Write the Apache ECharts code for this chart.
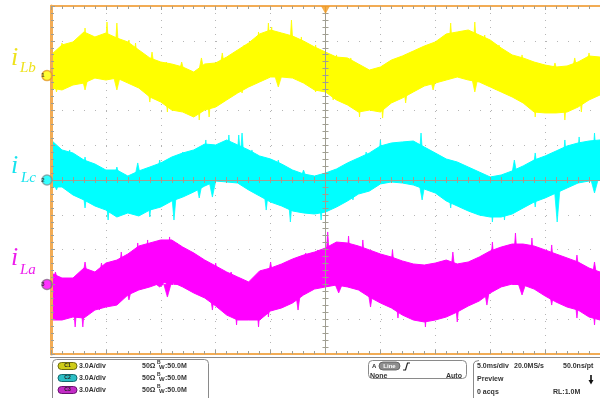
<!DOCTYPE html>
<html><head><meta charset="utf-8">
<script src="https://cdn.jsdelivr.net/npm/echarts@6/dist/echarts.min.js"></script>
<style>html,body{margin:0;padding:0;background:#fff}#c{width:600px;height:398px}</style>
</head><body><div id="c"></div>
<script>
// ---- data (time in ms relative to trigger, values in A relative to each channel's ground) ----
const timesMs = [-25,-24,-23,-22,-21,-20,-19,-18,-17,-16,-15,-14,-13,-12,-11,-10,-9,-8,-7,-6,-5,-4,-3,-2,-1,0,1,2,3,4,5,6,7,8,9,10,11,12,13,14,15,16,17,18,19,20,21,22,23,24,25];

const iLbTop = [1.78,2.64,2.90,3.76,3.33,3.67,3.24,2.90,2.21,1.52,1.17,1.00,0.74,0.31,1.00,1.09,1.60,2.21,2.81,3.59,3.93,3.67,3.41,2.98,2.47,2.03,1.60,1.52,1.00,0.48,0.74,1.34,1.69,2.12,2.55,2.90,3.59,3.76,3.93,3.50,3.07,2.38,1.78,1.52,1.17,0.91,0.74,0.83,1.17,1.69,1.60];
const iLbBottom = [-1.07,-1.24,-0.81,-0.64,-0.21,-0.38,-0.21,-0.64,-1.07,-1.84,-2.28,-2.97,-3.14,-3.57,-2.97,-2.71,-2.10,-1.50,-0.98,-0.55,-0.12,-0.12,-0.21,-0.64,-1.24,-1.41,-2.10,-2.53,-3.14,-2.97,-3.14,-2.36,-1.93,-1.41,-0.90,-0.64,-0.38,-0.12,-0.38,-0.55,-0.98,-1.41,-1.84,-2.36,-3.14,-3.22,-3.22,-3.14,-2.71,-2.10,-1.67];

const iLcTop = [3.45,2.59,2.33,1.72,1.38,0.86,0.86,0.34,0.78,1.12,1.47,1.98,2.33,2.59,3.10,3.02,3.45,3.02,2.59,2.07,1.81,1.38,0.86,0.52,0.34,0.60,0.95,1.47,1.90,2.33,2.93,3.19,3.28,3.36,2.84,2.33,1.81,1.55,1.12,0.69,0.26,0.43,0.78,1.21,1.72,2.07,2.50,2.93,3.19,3.36,3.45];
const iLcBottom = [-0.60,-0.60,-1.29,-1.72,-2.24,-2.59,-3.19,-2.84,-3.10,-2.59,-2.33,-1.81,-1.47,-1.03,-0.52,-0.09,-0.17,-0.26,-0.86,-1.38,-1.90,-2.24,-2.67,-2.84,-2.93,-2.76,-2.33,-1.81,-1.21,-0.95,-0.34,-0.17,-0.26,-0.43,-0.78,-1.12,-1.81,-2.24,-2.67,-3.02,-3.19,-3.19,-2.93,-2.41,-1.90,-1.55,-1.12,-0.69,-0.26,-0.09,0.00];

const iLaTop = [0.98,0.55,0.55,1.41,1.07,1.84,2.10,2.62,3.31,3.57,3.83,3.83,3.22,2.71,2.10,1.59,1.07,0.64,0.21,1.16,1.41,1.76,2.19,2.53,2.79,3.14,3.65,3.57,3.31,2.97,2.62,2.36,2.02,1.76,1.67,1.84,2.10,1.76,1.93,2.36,2.88,3.22,3.48,3.48,3.31,2.97,2.62,2.28,1.93,1.41,1.07];
const iLaBottom = [-3.07,-3.07,-2.81,-2.90,-2.21,-1.95,-1.78,-0.91,-0.48,-0.22,0.12,0.21,-0.22,-0.74,-1.17,-1.86,-2.64,-3.07,-3.07,-3.07,-2.29,-2.03,-1.60,-0.91,-0.40,-0.22,-0.05,-0.22,-0.48,-1.09,-1.60,-2.03,-2.64,-3.07,-3.24,-3.07,-2.81,-2.38,-1.86,-1.43,-0.74,-0.22,0.03,-0.05,-0.40,-1.00,-1.52,-1.95,-2.21,-2.81,-3.07];

// noise spikes [time ms, A]
const iLbSpikes = [[-19.9,4.62],[-19.0,4.53],[-4.9,4.19],[-3.1,4.79],[11.4,4.53],[13.6,4.62],[-11.5,-3.83],[5.2,-3.66],[21.8,-3.83],
  [-24.0,2.81],[-21.9,4.10],[-17.9,3.07],[-17.3,2.81],[-15.8,2.03],[-14.5,1.17],[-13.1,1.17],[-11.3,1.52],[-9.4,1.95],[-7.4,2.64],[-6.1,3.76],[-5.2,4.53],[-2.2,3.33],[-0.9,2.64],
  [-24.5,-1.41],[-21.9,-1.24],[-19.0,-1.24],[-16.0,-2.28],[-14.4,-3.14],[-10.6,-3.57],[-9.4,-2.36],[-7.6,-1.50],[-4.3,-0.98],[-0.9,-1.41],
  [1.0,1.78],[2.3,1.52],[7.3,1.78],[9.5,2.64],[14.5,3.50],[15.8,2.64],[17.9,1.78],[20.9,1.09],[22.7,1.52],[24.0,1.95],
  [0.7,-2.10],[3.1,-3.57],[7.3,-2.36],[9.8,-1.24],[13.6,-1.41],[15.5,-1.24],[19.1,-3.57],[23.3,-3.14]];
const iLcSpikes = [[-24.9,3.88],[-8.8,3.88],[-7.6,4.05],[8.7,4.05],[24.5,4.05],[-13.8,-3.45],[15.2,-3.62],[21.1,-3.62],
  [-23.3,2.59],[-21.9,1.98],[-19.0,1.12],[-17.1,1.47],[-15.1,1.72],[-13.0,2.41],[-10.9,3.45],[-7.9,3.88],[-6.7,2.59],[-4.3,1.72],[-2.0,0.86],
  [1.2,0.86],[3.7,2.41],[5.0,3.45],[8.8,2.84],[11.3,1.72],[17.2,1.72],[19.1,2.33],[21.8,3.45],[23.1,3.71],
  [-24.5,-0.86],[-21.9,-2.41],[-19.8,-3.45],[-16.0,-3.19],[-11.5,-1.55],[-10.3,-1.47],[-5.4,-2.59],[-3.2,-3.62],[-0.4,-3.45],
  [0.7,-2.33],[2.5,-1.72],[8.8,-1.72],[11.4,-2.41],[13.4,-2.84],[16.3,-3.45],[19.1,-2.33],[24.5,-1.12]];
const iLaSpikes = [[-14.2,4.09],[2.1,4.17],[17.3,4.43],[-22.1,-3.67],[-8.1,-3.50],[9.1,-3.67],
  [-24.6,1.07],[-21.9,1.93],[-20.4,1.84],[-18.6,2.79],[-17.1,3.57],[-16.2,3.83],[-15.1,3.83],[-13.5,3.57],[-12.1,2.79],[-10.0,1.84],[-8.6,1.07],[-5.0,1.93],[-3.6,1.93],[-1.8,2.71],[-0.7,2.97],
  [0.2,4.52],[3.4,3.83],[6.1,2.97],[11.6,2.79],[15.2,3.65],[18.8,4.00],[20.6,3.40],[22.9,2.53],[24.5,1.93],
  [-22.8,-3.67],[-20.6,-2.21],[-17.9,-1.34],[-15.1,-0.22],[-14.4,-1.09],[-10.3,-2.21],[-6.1,-3.67],[-5.2,-2.81],[-2.5,-2.21],
  [1.2,-0.74],[4.1,-1.95],[6.6,-2.90],[12.0,-3.24],[14.7,-1.78],[17.9,-0.91],[20.6,-1.78],[22.9,-2.90],[24.5,-3.50]];

const channelNames = ['1','2','3'];
const channelOffsetDiv = [3, 0, -3];
const ampsPerDiv = 3.0;

const statusRows = ['3.0A/div','3.0A/div','3.0A/div'];

// ---- chart ----
const colors = ['#FFFF00','#00FFFF','#FF00FF'];
const labelColors = ['#EEE21C','#17E3EE','#EC1CEC'];
const markerRings = ['#E39A2A','#7A9A9C','#8A6A8A'];

function bandSeries(top, bottom, ch) {
  const off = channelOffsetDiv[ch] * ampsPerDiv;
  const n = timesMs.length;
  return {
    type: 'custom', coordinateSystem: 'cartesian2d', xAxisIndex: 0, yAxisIndex: 0,
    z: 3 + ch, silent: true, clip: true,
    data: timesMs.map((t, i) => [t, top[i], bottom[i]]),
    renderItem(params, api) {
      if (params.dataIndex !== 0) return null;
      const pts = [];
      for (let i = 0; i < n; i++) pts.push(api.coord([timesMs[i], top[i] + off]));
      for (let i = n - 1; i >= 0; i--) pts.push(api.coord([timesMs[i], bottom[i] + off]));
      return {
        type: 'polygon',
        shape: { points: pts },
        style: { fill: colors[ch], stroke: colors[ch], lineWidth: 1 }
      };
    }
  };
}
// each spike is a narrow wedge from the channel's ground level up to its tip
function spikeSeries(spikes, ch) {
  const off = channelOffsetDiv[ch] * ampsPerDiv;
  return {
    type: 'custom', coordinateSystem: 'cartesian2d', xAxisIndex: 0, yAxisIndex: 0,
    z: 3 + ch, silent: true, clip: true,
    data: spikes,
    renderItem(params, api) {
      const p = spikes[params.dataIndex];
      const a = api.coord([p[0] - 0.32, off]);
      const b = api.coord([p[0] + 0.32, off]);
      const tip = api.coord([p[0], off + p[1]]);
      return { type: 'polygon', shape: { points: [a, tip, b] },
        style: { fill: colors[ch], stroke: colors[ch], lineWidth: 0.8 } };
    }
  };
}

const gridCol = '#b5b5b5';
const centerCol = '#a09e92';
const orange = '#F2AC55';
const xBase = { type: 'value', min: -25, max: 25, interval: 5, axisLabel: { show: false }, splitLine: { show: false } };
const yBase = { type: 'value', min: -15, max: 15, interval: 3, axisLabel: { show: false }, splitLine: { show: false } };
const minorT = (len, col) => ({ show: true, splitNumber: 5, length: len, lineStyle: { color: col, width: 1 } });

const xAxis = [
  Object.assign({}, xBase, { position: 'bottom', z: 0, axisLine: { show: false, onZero: false }, axisTick: { show: false },
    splitLine: { show: true, lineStyle: { color: gridCol, width: 1, type: [1, 6] } } }),
  Object.assign({}, xBase, { position: 'bottom', z: 10, axisLine: { show: true, onZero: true, onZeroAxisIndex: 0, lineStyle: { color: centerCol, width: 1 } },
    axisTick: { show: true, length: 3, lineStyle: { color: centerCol } }, minorTick: minorT(3, centerCol) }),
  Object.assign({}, xBase, { position: 'top', z: 10, axisLine: { show: false, onZero: true, onZeroAxisIndex: 0 },
    axisTick: { show: true, length: 3, lineStyle: { color: centerCol } }, minorTick: minorT(3, centerCol) }),
  Object.assign({}, xBase, { position: 'top', z: 11, axisLine: { show: true, onZero: false, lineStyle: { color: orange, width: 2 } },
    axisTick: { show: true, inside: true, length: 4, lineStyle: { color: centerCol } }, minorTick: minorT(3, centerCol) }),
  Object.assign({}, xBase, { position: 'bottom', z: 11, axisLine: { show: true, onZero: false, lineStyle: { color: orange, width: 2 } },
    axisTick: { show: true, inside: true, length: 4, lineStyle: { color: centerCol } }, minorTick: minorT(3, centerCol) })
];
const yAxis = [
  Object.assign({}, yBase, { position: 'left', z: 0, axisLine: { show: false, onZero: false }, axisTick: { show: false },
    splitLine: { show: true, lineStyle: { color: gridCol, width: 1, type: [1, 10] } } }),
  Object.assign({}, yBase, { position: 'left', z: 10, axisLine: { show: true, onZero: true, onZeroAxisIndex: 0, lineStyle: { color: centerCol, width: 1 } },
    axisTick: { show: true, length: 3, lineStyle: { color: centerCol } }, minorTick: minorT(3, centerCol) }),
  Object.assign({}, yBase, { position: 'right', z: 10, axisLine: { show: false, onZero: true, onZeroAxisIndex: 0 },
    axisTick: { show: true, length: 3, lineStyle: { color: centerCol } }, minorTick: minorT(3, centerCol) }),
  Object.assign({}, yBase, { position: 'left', z: 11, axisLine: { show: true, onZero: false, lineStyle: { color: orange, width: 3 } },
    axisTick: { show: true, inside: true, length: 4, lineStyle: { color: centerCol } }, minorTick: minorT(3, centerCol) })
];

const series = [
  bandSeries(iLbTop, iLbBottom, 0), spikeSeries(iLbSpikes, 0),
  bandSeries(iLcTop, iLcBottom, 1), spikeSeries(iLcSpikes, 1),
  bandSeries(iLaTop, iLaBottom, 2), spikeSeries(iLaSpikes, 2),
  {
    type: 'scatter', xAxisIndex: 0, yAxisIndex: 0, z: 20, silent: true, clip: false,
    symbol: 'circle', symbolSize: 10, symbolOffset: [-4, 0],
    data: channelOffsetDiv.map((d, k) => ({
      value: [-25, d * ampsPerDiv],
      itemStyle: { color: colors[k], borderColor: markerRings[k], borderWidth: 1.5 },
      label: { show: true, formatter: channelNames[k], position: 'inside', offset: [-4, 0], color: '#222', fontSize: 6, fontWeight: 'bold', fontFamily: 'Liberation Sans' }
    }))
  },
  {
    type: 'scatter', xAxisIndex: 0, yAxisIndex: 0, z: 20, silent: true, clip: false,
    symbol: 'triangle', symbolRotate: 180, symbolSize: [9, 8], symbolOffset: [0, 4],
    itemStyle: { color: '#F29A1E' },
    data: [[0, 15]]
  }
];

// ---- labels and status bar (text) ----
const ser = 'Liberation Serif';
const sans = 'Liberation Sans';
function T(x, y, text, opt) {
  return { type: 'text', x, y, silent: true, z: 50,
    style: Object.assign({ text, fill: '#333', font: 'bold 7px ' + sans, verticalAlign: 'middle', align: 'left' }, opt || {}) };
}
const chanLabels = [
  { i: 'i', s: 'Lb', iy: 58, sy: 68, sx: 20 },
  { i: 'i', s: 'Lc', iy: 166, sy: 178, sx: 21 },
  { i: 'i', s: 'La', iy: 258, sy: 270, sx: 20 }
];
const graphic = [];
chanLabels.forEach((l, k) => {
  graphic.push(T(11, l.iy, l.i, { fill: labelColors[k], font: 'italic 26px ' + ser }));
  graphic.push(T(l.sx, l.sy, l.s, { fill: labelColors[k], font: 'italic 15px ' + ser }));
});
// status area
graphic.push({ type: 'line', z: 40, silent: true, shape: { x1: 50, y1: 357.5, x2: 600, y2: 357.5 }, style: { stroke: '#8a8a8a', lineWidth: 1 } });
graphic.push({ type: 'rect', z: 40, silent: true, shape: { x: 52.5, y: 359.5, width: 156, height: 46, r: 4 }, style: { fill: 'none', stroke: '#8a8a8a', lineWidth: 1 } });
const pillFill = ['#CFCC18', '#2BBFC6', '#C32BC6'];
const pillStroke = ['#6e6c10', '#136a70', '#6a1270'];
statusRows.forEach((txt, k) => {
  const y = 366 + k * 12;
  graphic.push({ type: 'rect', z: 45, silent: true, shape: { x: 58, y: y - 3.5, width: 19, height: 7, r: 3.5 }, style: { fill: pillFill[k], stroke: pillStroke[k], lineWidth: 1 } });
  graphic.push(T(67.5, y, 'C' + channelNames[k], { font: 'bold 5px ' + sans, align: 'center', fill: '#222' }));
  graphic.push(T(79, y, txt));
  graphic.push(T(142, y, '50Ω'));
  graphic.push(T(157, y - 3, 'B', { font: 'bold 5px ' + sans }));
  graphic.push(T(159, y + 1, 'W', { font: 'bold 6px ' + sans }));
  graphic.push(T(165, y, ':50.0M'));
});
graphic.push({ type: 'rect', z: 40, silent: true, shape: { x: 368.5, y: 360.5, width: 98, height: 18, r: 4 }, style: { fill: 'none', stroke: '#8a8a8a', lineWidth: 1 } });
graphic.push(T(372, 366, 'A', { font: 'bold 6px ' + sans }));
graphic.push({ type: 'rect', z: 45, silent: true, shape: { x: 379, y: 362, width: 21, height: 8, r: 4 }, style: { fill: '#8e8e8e', stroke: '#555', lineWidth: 0.8 } });
graphic.push(T(389.5, 366, 'Line', { font: 'bold 6px ' + sans, align: 'center', fill: '#fff' }));
graphic.push({ type: 'polyline', z: 45, silent: true, shape: { points: [[403, 370], [405.5, 370], [407.5, 363], [410, 363]] }, style: { stroke: '#222', lineWidth: 1.2, fill: 'none' } });
graphic.push(T(370, 376, 'None'));
graphic.push(T(446, 376, 'Auto'));
graphic.push({ type: 'polyline', z: 40, silent: true, shape: { points: [[479, 360.5], [475, 361.5], [473.5, 364], [473.5, 398]] }, style: { stroke: '#8a8a8a', lineWidth: 1, fill: 'none' } });
graphic.push(T(477, 366, '5.0ms/div'));
graphic.push(T(514, 366, '20.0MS/s'));
graphic.push(T(563, 366, '50.0ns/pt'));
graphic.push(T(477, 379, 'Preview'));
graphic.push({ type: 'polygon', z: 45, silent: true, shape: { points: [[590.2, 375], [591.8, 375], [591.8, 380], [593.5, 380], [591, 384.5], [588.5, 380], [590.2, 380]] }, style: { fill: '#111' } });
graphic.push(T(477, 392, '0 acqs'));
graphic.push(T(553, 392, 'RL:1.0M'));

const chart = echarts.init(document.getElementById('c'), null, { renderer: 'canvas' });
chart.setOption({
  backgroundColor: '#ffffff',
  animation: false,
  grid: { left: 51, top: 6, width: 554, height: 348, containLabel: false },
  xAxis, yAxis, series, graphic
});
</script>
</body></html>
